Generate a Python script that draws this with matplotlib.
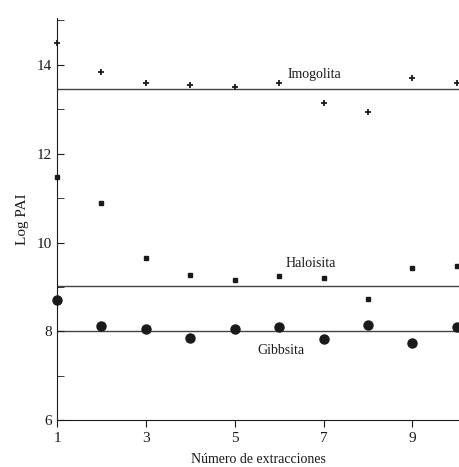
import numpy as np
import matplotlib.pyplot as plt

plt.rcParams['font.family'] = ['Liberation Serif', 'DejaVu Serif']

# Datos
extracciones = [1, 2, 3, 4, 5, 6, 7, 8, 9, 10]
imogolita = [14.5, 13.85, 13.6, 13.55, 13.5, 13.6, 13.15, 12.95, 13.7, 13.6]
haloisita = [11.47, 10.9, 9.65, 9.26, 9.15, 9.25, 9.2, 8.74, 9.43, 9.48]
gibbsita = [8.7, 8.13, 8.05, 7.85, 8.05, 8.1, 7.83, 8.15, 7.74, 8.1]

# Lineas de equilibrio (log PAI)
niveles = [13.45, 9.02, 8.0]
nombres = ["Imogolita", "Haloisita", "Gibbsita"]
pos_etiquetas = [(6.8, 13.78), (6.7, 9.52), (6.05, 7.58)]

fig = plt.figure(figsize=(4.6, 4.67), dpi=100)
ax = fig.add_axes([0.124, 0.1, 0.876, 0.861])

col = '#1a1a1a'
for nivel in niveles:
    ax.axhline(nivel, color='#444444', linewidth=1.0, zorder=1)

ax.plot(extracciones, imogolita, linestyle='none', marker='+', markersize=5,
        markeredgewidth=1.3, color=col, clip_on=False, zorder=3)
ax.plot(extracciones, haloisita, linestyle='none', marker='s', markersize=2.6,
        color=col, clip_on=False, zorder=3)
ax.plot(extracciones, gibbsita, linestyle='none', marker='o', markersize=6.5,
        color=col, clip_on=False, zorder=3)

for nombre, (xt, yt) in zip(nombres, pos_etiquetas):
    ax.text(xt, yt, nombre, fontsize=10, color=col, ha='center', va='center')

ax.set_xlim(1, 10.07)
ax.set_ylim(6, 15.05)
ax.set_xticks([1, 3, 5, 7, 9])
ax.set_yticks([6, 8, 10, 12, 14])
ax.set_yticks([7, 9, 11, 13, 15], minor=True)

ax.spines['top'].set_visible(False)
ax.spines['right'].set_visible(False)
ax.spines['left'].set_color(col)
ax.spines['bottom'].set_color(col)
ax.tick_params(axis='y', which='both', direction='in', length=5, labelsize=11, colors=col)
ax.tick_params(axis='x', direction='out', length=5, labelsize=11, colors=col)

ax.set_xlabel("Número de extracciones", fontsize=10, color=col, labelpad=6)
ax.set_ylabel("Log PAI", fontsize=11, color=col, labelpad=6)

plt.savefig("out.png", dpi=100)
